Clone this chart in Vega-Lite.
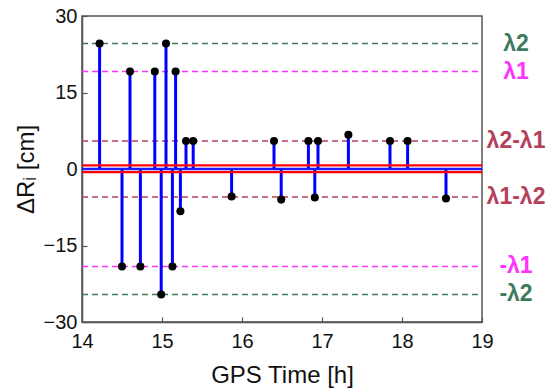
{
  "$schema": "https://vega.github.io/schema/vega-lite/v6.json",
  "width": 400,
  "height": 306,
  "autosize": "none",
  "padding": {"left": 82, "top": 16, "right": 74, "bottom": 70},
  "background": "white",
  "config": {
    "font": "Liberation Sans",
    "view": {"stroke": "#555555", "strokeWidth": 1.5},
    "axis": {"grid": false, "labelFlush": false, "domainColor": "#555555", "domainWidth": 1.5, "tickColor": "#555555", "tickWidth": 1.2, "tickSize": -5, "labelColor": "#111111", "titleColor": "#111111", "labelFontSize": 20, "titleFontSize": 24, "titleFontWeight": "normal", "labelFont": "Liberation Sans", "titleFont": "Liberation Sans"}
  },
  "datasets": {
    "pts": [
      {"t": 14.22, "v": 24.6},
      {"t": 14.50, "v": -19.1},
      {"t": 14.60, "v": 19.1},
      {"t": 14.73, "v": -19.1},
      {"t": 14.91, "v": 19.1},
      {"t": 14.99, "v": -24.6},
      {"t": 15.05, "v": 24.6},
      {"t": 15.13, "v": -19.1},
      {"t": 15.17, "v": 19.1},
      {"t": 15.23, "v": -8.3},
      {"t": 15.30, "v": 5.5},
      {"t": 15.39, "v": 5.5},
      {"t": 15.87, "v": -5.4},
      {"t": 16.40, "v": 5.5},
      {"t": 16.49, "v": -6.0},
      {"t": 16.83, "v": 5.5},
      {"t": 16.91, "v": -5.6},
      {"t": 16.95, "v": 5.5},
      {"t": 17.33, "v": 6.7},
      {"t": 17.85, "v": 5.5},
      {"t": 18.07, "v": 5.5},
      {"t": 18.55, "v": -5.8}
    ],
    "levels": [
      {"v": 24.6, "label": "λ2", "c": "g"},
      {"v": 19.1, "label": "λ1", "c": "m"},
      {"v": 5.5, "label": "λ2-λ1", "c": "r"},
      {"v": -5.5, "label": "λ1-λ2", "c": "r"},
      {"v": -19.1, "label": "-λ1", "c": "m"},
      {"v": -24.6, "label": "-λ2", "c": "g"}
    ],
    "noise": [
      {"v": 0.7, "c": "red"},
      {"v": -0.6, "c": "red"}
    ]
  },
  "layer": [
    {
      "data": {"name": "levels"},
      "mark": {"type": "rule", "strokeDash": [6, 4], "strokeWidth": 1.5},
      "encoding": {
        "x": {"datum": 14, "type": "quantitative", "scale": {"domain": [14, 19], "nice": false, "zero": false, "padding": 0},
          "axis": {"values": [14, 15, 16, 17, 18, 19], "format": "d", "title": "GPS Time [h]", "labelPadding": 14, "titlePadding": 12}},
        "x2": {"datum": 19},
        "y": {"field": "v", "type": "quantitative", "scale": {"domain": [-30, 30], "nice": false, "padding": 0},
          "axis": {"values": [-30, -15, 0, 15, 30], "title": "ΔRᵢ [cm]", "titlePadding": 5, "labelPadding": 10}},
        "color": {"field": "c", "type": "nominal", "legend": null,
          "scale": {"domain": ["g", "m", "r"], "range": ["#3d7a5e", "#ff33ff", "#b5405a"]}}
      }
    },
    {
      "data": {"name": "pts"},
      "mark": {"type": "rule", "color": "#0000ff", "strokeWidth": 3},
      "encoding": {
        "x": {"field": "t", "type": "quantitative"},
        "y": {"field": "v", "type": "quantitative"},
        "y2": {"datum": 0}
      }
    },
    {
      "data": {"name": "noise"},
      "mark": {"type": "rule", "color": "#ff0000", "strokeWidth": 2.2},
      "encoding": {
        "x": {"datum": 14, "type": "quantitative"},
        "x2": {"datum": 19},
        "y": {"field": "v", "type": "quantitative"}
      }
    },
    {
      "data": {"values": [{"v": 0}]},
      "mark": {"type": "rule", "color": "#1a1aff", "strokeWidth": 2.5},
      "encoding": {
        "x": {"datum": 14, "type": "quantitative"},
        "x2": {"datum": 19},
        "y": {"field": "v", "type": "quantitative"}
      }
    },
    {
      "data": {"name": "pts"},
      "mark": {"type": "circle", "color": "#000000", "size": 65, "opacity": 1},
      "encoding": {
        "x": {"field": "t", "type": "quantitative"},
        "y": {"field": "v", "type": "quantitative"}
      }
    },
    {
      "data": {"name": "levels"},
      "mark": {"type": "text", "fontSize": 23, "fontWeight": "bold", "align": "center", "baseline": "middle", "dx": 34, "clip": false},
      "encoding": {
        "x": {"datum": 19, "type": "quantitative"},
        "y": {"field": "v", "type": "quantitative"},
        "text": {"field": "label"},
        "color": {"field": "c", "type": "nominal", "legend": null,
          "scale": {"domain": ["g", "m", "r"], "range": ["#2f6a4e", "#ff00ff", "#a01c3c"]}}
      }
    }
  ]
}
